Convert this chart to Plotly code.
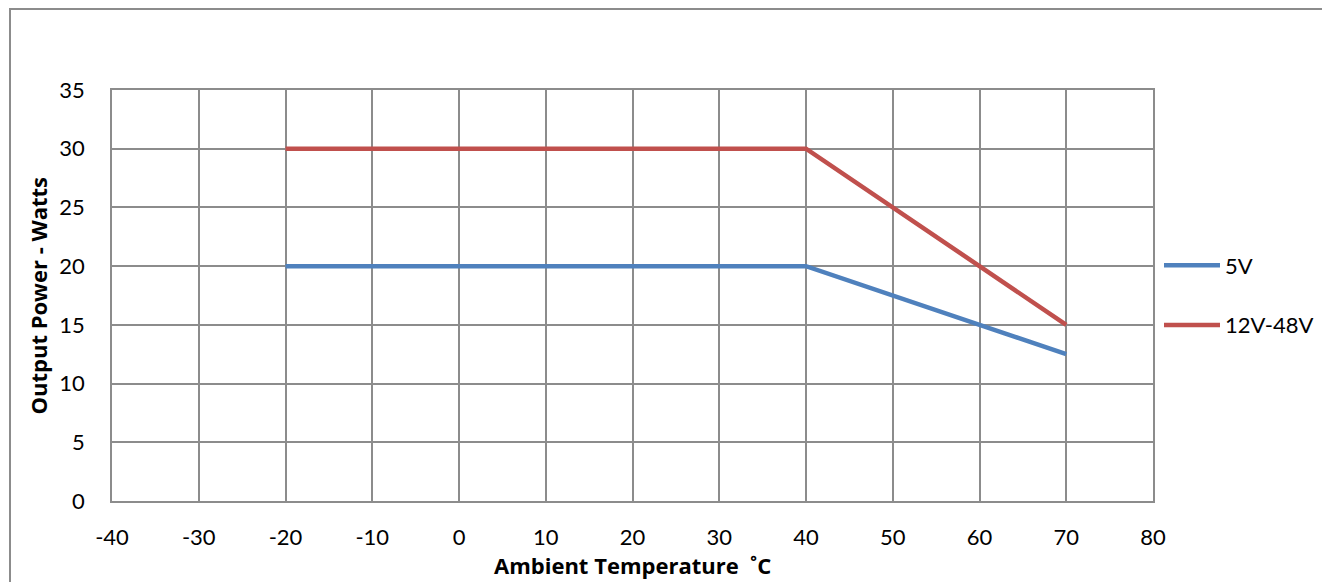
import plotly.graph_objects as go

temps = [-20, 40, 70]
p5v = [20, 20, 12.5]
p12_48 = [30, 30, 15]
x_ticks = list(range(-40, 81, 10))
x_tick_labels = [str(v) for v in x_ticks]
y_ticks = list(range(0, 36, 5))
y_tick_labels = [str(v) for v in y_ticks]

FONT = "Lato"
TFONT = "Open Sans"
OFF = 8  # page body margin offset
W, H = 1330 - OFF, 582 - OFF
L, R, T, B = 112 - OFF, 177, 90 - OFF, 81
pw, ph = W - L - R, H - T - B

fig = go.Figure()
fig.add_trace(go.Scatter(x=temps, y=p5v, mode="lines", name="5V", legendgroup="a",
                         line=dict(color="#4F81BD", width=4.5)))
fig.add_trace(go.Scatter(x=temps, y=p12_48, mode="lines", name="12V-48V", legendgroup="b",
                         line=dict(color="#C0504D", width=4.5)))

grid = "#8c8c8c"
fig.update_layout(
    width=W, height=H,
    margin=dict(l=L, r=R, t=T, b=B, autoexpand=False),
    paper_bgcolor="white", plot_bgcolor="white",
    font=dict(family=FONT, size=22, color="black"),
    showlegend=True,
    legend=dict(x=(1159 - OFF - L) / pw, y=0.5, xanchor="left", yanchor="middle",
                bgcolor="rgba(0,0,0,0)",
                tracegroupgap=28, itemwidth=56, font=dict(size=22, family=FONT)),
    xaxis=dict(range=[-40, 80], tickvals=x_ticks, ticktext=x_tick_labels,
               showgrid=True, gridcolor=grid, gridwidth=1.5, automargin=False,
               zeroline=False, showline=True, linecolor=grid, linewidth=1.5, mirror=True,
               ticklabelstandoff=16),
    yaxis=dict(range=[0, 35], tickvals=y_ticks, ticktext=y_tick_labels,
               showgrid=True, gridcolor=grid, gridwidth=1.5, automargin=False,
               zeroline=False, showline=True, linecolor=grid, linewidth=1.5, mirror=True,
               ticklabelstandoff=21),
)

fig.add_annotation(text="<b>Ambient Temperature  ˚C</b>", xref="paper", yref="paper",
                   x=0.5, y=(H - B - (565 - OFF)) / ph, xanchor="center", yanchor="middle",
                   showarrow=False, font=dict(family=TFONT, size=22, color="black"))
fig.add_annotation(text="<b>Output Power - Watts</b>", xref="paper", yref="paper",
                   x=(37 - OFF - L) / pw, y=0.5, xanchor="center", yanchor="middle", textangle=-90,
                   showarrow=False, font=dict(family=TFONT, size=22, color="black"))

fig.add_shape(type="rect", xref="paper", yref="paper",
              x0=(10 - OFF - L) / pw, x1=(W + 5 - L) / pw,
              y0=-(H + 5 - (H - B)) / ph, y1=1 + (T - (9 - OFF)) / ph,
              line=dict(color="#8c8c8c", width=2), fillcolor="rgba(0,0,0,0)", layer="below")

fig.write_html("out.html")
